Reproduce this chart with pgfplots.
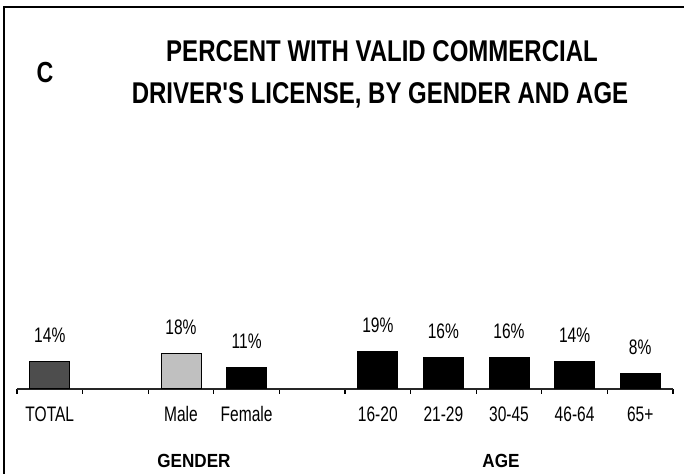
\documentclass[border=0pt]{standalone}
\usepackage{fontspec}
\setmainfont{Liberation Sans}[FakeStretch=0.74]
\newfontfamily\titlefont{Liberation Sans}[FakeStretch=0.8]
\newfontfamily\groupfont{Liberation Sans}[FakeStretch=0.9]
\usepackage{pgfplots}
\pgfplotsset{compat=1.18}
\definecolor{totalgray}{RGB}{77,77,77}
\definecolor{malegray}{RGB}{192,192,192}

\begin{document}
\begin{tikzpicture}
\useasboundingbox (0,0) rectangle (342pt,237pt);
% frame (top and left only)
\draw[line width=1pt] (2pt,0) -- (2pt,233.5pt) -- (342pt,233.5pt);
% title
\node[anchor=base, font=\titlefont\bfseries\fontsize{15}{17}\selectfont] at (191pt,206pt) {PERCENT WITH VALID COMMERCIAL};
\node[anchor=base, font=\titlefont\bfseries\fontsize{15}{17}\selectfont] at (190pt,185pt) {DRIVER'S LICENSE, BY GENDER AND AGE};
\node[anchor=base, font=\titlefont\bfseries\fontsize{14.5}{16}\selectfont] at (22.5pt,195.5pt) {C};
% group labels
\node[anchor=base, font=\groupfont\bfseries\fontsize{9.5}{11}\selectfont] at (97pt,3pt) {GENDER};
\node[anchor=base, font=\groupfont\bfseries\fontsize{9.5}{11}\selectfont] at (250.5pt,3pt) {AGE};

\begin{axis}[
  at={(8.5pt,42.5pt)}, anchor=south west,
  scale only axis, width=328pt, height=98pt,
  xmin=-0.5, xmax=9.5, ymin=0, ymax=100,
  axis x line*=bottom, axis y line=none,
  x axis line style={black!85, line width=0.6pt, -},
  xtick={0,2,3,5,6,7,8,9},
  xticklabels={TOTAL,Male,Female,16-20,21-29,30-45,46-64,65+},
  major x tick style={draw=none},
  minor xtick={-0.5,0.5,...,9.5},
  minor x tick style={black, line width=0.6pt},
  tick align=outside, minor tick length=2.5pt,
  xticklabel style={font=\fontsize{10.5}{12}\selectfont, anchor=base, yshift=-12pt},
  ybar, bar width=20pt,
  /pgf/number format/assume math mode=true,
  nodes near coords={\pgfmathprintnumber{\pgfplotspointmeta}\%},
  every node near coord/.append style={font=\fontsize{10.5}{12}\selectfont, anchor=center, yshift=13pt},
  clip=false,
]
\addplot[bar shift=0pt, fill=totalgray, draw=black, line width=0.5pt] coordinates {(0,14)};
\addplot[bar shift=0pt, fill=malegray, draw=black, line width=0.5pt] coordinates {(2,18)};
\addplot[bar shift=0pt, fill=black, draw=black, line width=0.5pt] coordinates {(3,11) (5,19) (6,16) (7,16) (8,14) (9,8)};
\end{axis}
\end{tikzpicture}
\end{document}
